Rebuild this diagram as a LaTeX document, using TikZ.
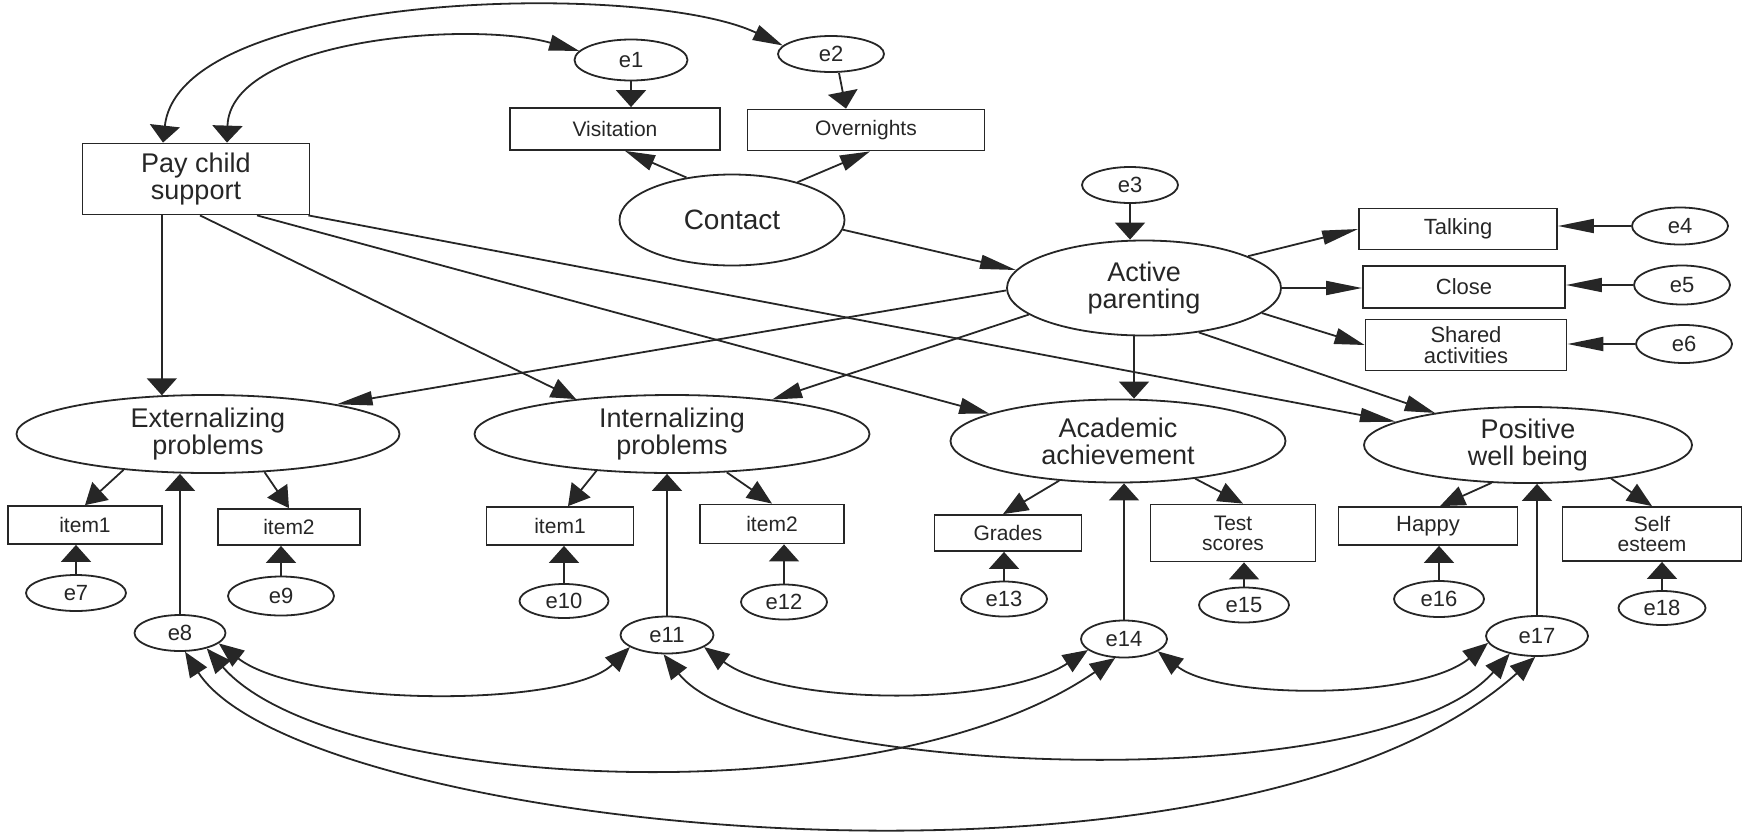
\documentclass[tikz,border=0pt]{standalone}
\usepackage{fontspec}
\setmainfont{Liberation Sans}
\usetikzlibrary{arrows.meta,shapes.geometric}

\begin{document}
\begin{tikzpicture}[x=1pt,y=1pt,yscale=-1,xscale=1,line width=1.8pt,color=black!85,
	fbig/.style={font=\fontsize{27}{27}\selectfont},
	fmid/.style={font=\fontsize{22}{21}\selectfont},
	fsml/.style={font=\fontsize{21}{20}\selectfont},
	box/.style={draw,rectangle,inner sep=0pt,align=center},
	lat/.style={draw,ellipse,inner sep=0pt,align=center,fbig},
	err/.style={draw,ellipse,inner sep=0pt,minimum width=92pt,minimum height=36pt,font=\fontsize{22}{22}\selectfont},
	tH/.style={-{Triangle[length=36pt,width=14pt]}},
	tS/.style={-{Triangle[length=30pt,width=16pt]}},
	tM/.style={-{Triangle[length=25pt,width=20pt]}},
	tD/.style={-{Triangle[length=21pt,width=24pt]}},
	tV/.style={-{Triangle[length=17pt,width=30pt]}},
	bM/.style={{Triangle[length=25pt,width=20pt]}-{Triangle[length=25pt,width=20pt]}},
	bVS/.style={{Triangle[length=17pt,width=30pt]}-{Triangle[length=30pt,width=16pt]}}]
	\useasboundingbox (0,0) rectangle (1748,836);

	\draw (196,179) node [box,fbig,minimum width=227pt,minimum height=71pt] (pay) {Pay child\\support};
	\draw (615,129) node [box,fsml,minimum width=210pt,minimum height=42pt] (vis) {Visitation};
	\draw (866,130) node [box,fsml,minimum width=237pt,minimum height=41pt] (ovn) {Overnights};
	\draw (631,60) node [err,minimum width=113pt,minimum height=41pt] (e1) {e1};
	\draw (831,54) node [err,minimum width=106pt] (e2) {e2};
	\draw (732,220) node [lat,font=\fontsize{28}{28}\selectfont,minimum width=225pt,minimum height=91pt] (contact) {Contact};
	\draw (1130,185) node [err,minimum width=96pt] (e3) {e3};
	\draw (1144,288) node [lat,minimum width=274pt,minimum height=95pt] (active) {Active\\parenting};
	\draw (1458,229) node [box,fmid,minimum width=198pt,minimum height=41pt] (talk) {Talking};
	\draw (1464,287) node [box,fmid,minimum width=202pt,minimum height=42pt] (close) {Close};
	\draw (1466,345) node [box,fmid,minimum width=201pt,minimum height=51pt] (shared) {Shared\\activities};
	\draw (1680,226) node [err,minimum width=96pt,minimum height=37pt] (e4) {e4};
	\draw (1682,285) node [err,minimum width=96pt,minimum height=39pt] (e5) {e5};
	\draw (1684,344) node [err,minimum width=96pt,minimum height=38pt] (e6) {e6};

	\draw (208,434) node [lat,minimum width=383pt,minimum height=78pt] (ext) {Externalizing\\problems};
	\draw (672,434) node [lat,minimum width=395pt,minimum height=78pt] (int) {Internalizing\\problems};
	\draw (1118,441) node [lat,minimum width=335pt,minimum height=83pt] (acad) {Academic\\achievement};
	\draw (1528,445) node [lat,minimum width=328pt,minimum height=76pt] (pos) {Positive\\well being};

	\draw (85,525) node [box,fsml,minimum width=154pt,minimum height=38pt] (item1a) {item1};
	\draw (289,527) node [box,fsml,minimum width=142pt,minimum height=36pt] (item2a) {item2};
	\draw (560,526) node [box,fsml,minimum width=147pt,minimum height=38pt] (item1b) {item1};
	\draw (772,524) node [box,fsml,minimum width=144pt,minimum height=39pt] (item2b) {item2};
	\draw (1008,533) node [box,fsml,minimum width=147pt,minimum height=36pt] (grades) {Grades};
	\draw (1233,533) node [box,fsml,minimum width=165pt,minimum height=57pt] (test) {Test\\scores};
	\draw (1428,526) node [box,fmid,minimum width=179pt,minimum height=38pt] (happy) {Happy};
	\draw (1652,534) node [box,fsml,minimum width=179pt,minimum height=54pt] (self) {Self\\esteem};

	\draw (76,593) node [err,minimum width=100pt] (e7) {e7};
	\draw (281,596) node [err,minimum width=106pt,minimum height=39pt] (e9) {e9};
	\draw (180,633) node [err,minimum width=91pt] (e8) {e8};
	\draw (564,601) node [err,minimum width=89pt,minimum height=34pt] (e10) {e10};
	\draw (784,602) node [err,minimum width=86pt,minimum height=35pt] (e12) {e12};
	\draw (667,635) node [err,minimum width=93pt,minimum height=37pt] (e11) {e11};
	\draw (1004,599) node [err,minimum width=86pt,minimum height=35pt] (e13) {e13};
	\draw (1244,605) node [err,minimum width=90pt,minimum height=35pt] (e15) {e15};
	\draw (1124,639) node [err,minimum width=86pt,minimum height=37pt] (e14) {e14};
	\draw (1439,599) node [err,minimum width=90pt] (e16) {e16};
	\draw (1662,608) node [err,minimum width=87pt,minimum height=34pt] (e18) {e18};
	\draw (1537,636) node [err,minimum width=102pt,minimum height=40pt] (e17) {e17};

	\draw [bVS] ([xshift=-33pt]pay.north) .. controls +(17,-153) and +(-136,-65) .. (e2.170) ;
	\draw [bVS] ([xshift=31pt]pay.north) .. controls +(3,-103) and +(-110,-31) .. (e1.170) ;
	\draw [tV]    (e1.south) -- (e1.south |- vis.north) ;
	\draw [tV]    ([xshift=8pt]e2.south) -- ([xshift=-20pt]ovn.north) ;
	\draw [tS]    (contact.137) -- ([xshift=10pt]vis.south) ;
	\draw [tS]    (contact.30) -- ([xshift=4pt]ovn.south) ;
	\draw [tH]    (contact.-5) -- (active.172) ;
	\draw [tV]    (e3.south) -- (e3.south |- active.north) ;
	\draw [tH]    (active.17) -- (talk.west) ;
	\draw [tH]    (active.east) -- (active.east -| close.west) ;
	\draw [tS]    (active.-12) -- (shared.west) ;
	\draw [tH]    (e4.west) -- (e4.west -| talk.east) ;
	\draw [tH]    (e5.west) -- (e5.west -| close.east) ;
	\draw [tH]    (e6.west) -- (e6.west -| shared.east) ;

	\draw [tV]    (pay.south -| ext.140) -- (ext.140) ;
	\draw [tM]    ([xshift=4pt]pay.south) -- (int.160) ;
	\draw [tS]    ([xshift=61pt]pay.south) -- (acad.168) ;
	\draw [tH]    ([xshift=-2pt]pay.south east) -- (pos.170) ;
	\draw [tH]    (active.181) -- (ext.13) ;
	\draw [tS]    (active.193) -- (int.19) ;
	\draw [tV]    ([xshift=-10pt]active.south) -- ([xshift=-10pt]active.south |- acad.north) ;
	\draw [tS]    (active.-39) -- (pos.161) ;

	\draw [tD]    (ext.203) -- (item1a.north) ;
	\draw [tD]    (ext.-34) -- (item2a.north) ;
	\draw [tD]    (int.206) -- ([xshift=8pt]item1b.north) ;
	\draw [tM]    (int.-35) -- (item2b.north) ;
	\draw [tM]    (acad.214) -- ([xshift=-5pt]grades.north) ;
	\draw [tM]    (acad.-26) -- ([xshift=10pt]test.north) ;
	\draw [tM]    (pos.226) -- ([xshift=12pt]happy.north) ;
	\draw [tM]    (pos.-22) -- (self.north) ;
	\draw [tV]    (e7.north) -- (e7.north |- item1a.south) ;
	\draw [tV]    (e9.north) -- (e9.north |- item2a.south) ;
	\draw [tV]    (e10.north) -- (e10.north |- item1b.south) ;
	\draw [tV]    (e12.north) -- (e12.north |- item2b.south) ;
	\draw [tV]    (e13.north) -- (e13.north |- grades.south) ;
	\draw [tV]    (e15.north) -- (e15.north |- test.south) ;
	\draw [tV]    (e16.north) -- (e16.north |- happy.south) ;
	\draw [tV]    (e18.north) -- (e18.north |- self.south) ;
	\draw [tV]    (e8.north) -- (e8.north |- ext.south) ;
	\draw [tV]    (e11.north) -- (e11.north |- int.south) ;
	\draw [tV]    (e14.north) -- (e14.north |- acad.south) ;
	\draw [tV]    (e17.north) -- (e17.north |- pos.south) ;

	\draw [bM] (e8.-15) .. controls +(83,64) and +(-61,61) .. (e11.198) ;
	\draw [bM] (e8.-30) .. controls +(123,142) and +(-235,163) .. (e14.245) ;
	\draw [bM] (e8.-75) .. controls +(115,179) and +(-305,273) .. (e17.265) ;
	\draw [bM] (e11.-18) .. controls +(77,58) and +(-89,58) .. (e14.197) ;
	\draw [bM] (e11.-100) .. controls +(96,122) and +(-131,147) .. (e17.213) ;
	\draw [bM] (e14.-20) .. controls +(63,49) and +(-69,57) .. (e17.188) ;
\end{tikzpicture}
\end{document}
